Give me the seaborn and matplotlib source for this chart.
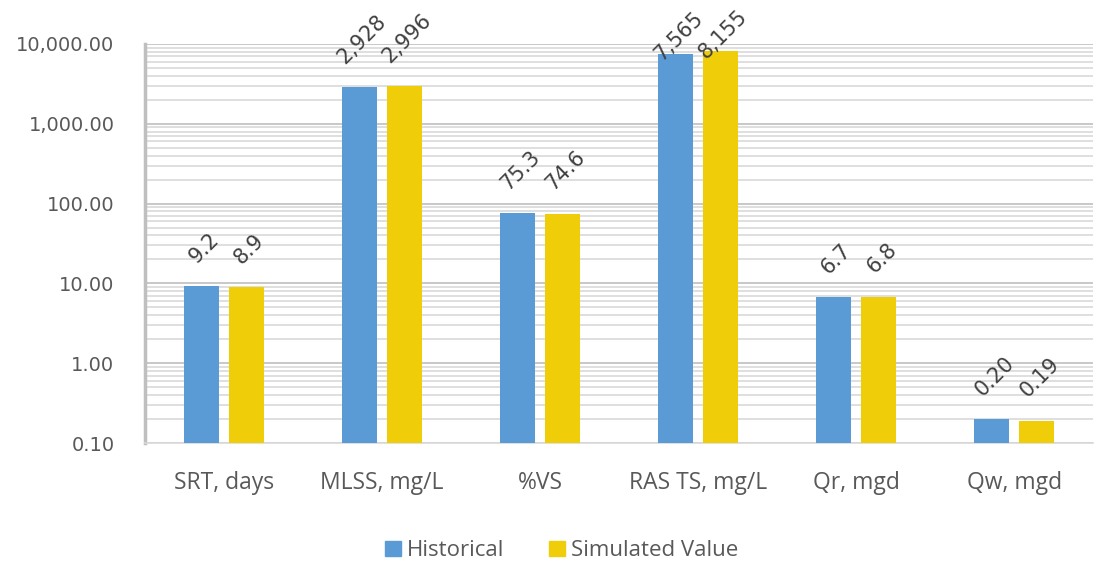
import pandas as pd
import numpy as np
import matplotlib
matplotlib.use('Agg')
import matplotlib.pyplot as plt
import seaborn as sns
from matplotlib.ticker import FixedLocator, LogLocator, FuncFormatter, NullFormatter

categories = ['SRT, days', 'MLSS, mg/L', '%VS', 'RAS TS, mg/L', 'Qr, mgd', 'Qw, mgd']
historical = [9.2, 2928, 75.3, 7565, 6.7, 0.20]
simulated = [8.9, 2996, 74.6, 8155, 6.8, 0.19]
hist_labels = ['9.2', '2,928', '75.3', '7,565', '6.7', '0.20']
sim_labels = ['8.9', '2,996', '74.6', '8,155', '6.8', '0.19']
series = ['Historical', 'Simulated Value']

df = pd.DataFrame({
    'cat': categories * 2,
    'value': historical + simulated,
    'series': [series[0]] * 6 + [series[1]] * 6,
})

sns.set_style('white')
plt.rcParams['font.family'] = ['Open Sans', 'DejaVu Sans']

fig = plt.figure(figsize=(10.95, 5.66), dpi=100)
ax = fig.add_axes([0.1324, 0.2173, 0.866, 0.705])

ax.set_yscale('log')
sns.barplot(data=df, x='cat', y='value', hue='series',
            palette=['#5B9BD5', '#F0CD09'], saturation=1, width=0.57, gap=0.23,
            ax=ax, zorder=3, legend=False, linewidth=0)
ax.set_ylim(0.1, 10000)
ax.set_xlim(-0.5, 5.5)

# gridlines
ax.yaxis.set_major_locator(FixedLocator([0.1, 1, 10, 100, 1000, 10000]))
ax.yaxis.set_minor_locator(LogLocator(base=10, subs=np.arange(2, 10)))
ax.yaxis.set_minor_formatter(NullFormatter())
ax.yaxis.set_major_formatter(FuncFormatter(lambda v, p: f'{v:,.2f}'))
ax.grid(axis='y', which='major', color='#BFBFBF', lw=1.2, zorder=0)
ax.grid(axis='y', which='minor', color='#D9D9D9', lw=1.2, zorder=0)
ax.tick_params(axis='both', which='both', length=0)
ax.tick_params(axis='y', labelsize=14, labelcolor='#595959', pad=22)
ax.tick_params(axis='x', labelsize=16.5, labelcolor='#595959', pad=20)
for t in ax.get_yticklabels():
    t.set_family('DejaVu Sans')
ax.set_xlabel('')
ax.set_ylabel('')
for s in ['top', 'right']:
    ax.spines[s].set_visible(False)
ax.spines['left'].set_color('#BFBFBF')
ax.spines['left'].set_linewidth(2.5)
ax.spines['bottom'].set_color('#D9D9D9')
ax.spines['bottom'].set_linewidth(1.2)

# data labels (labels near the top get pushed down to stay inside)
for cont, labs in zip(ax.containers, [hist_labels, sim_labels]):
    for bar, lab in zip(cont, labs):
        h = bar.get_height()
        off = 14 if h < 5000 else -8
        ax.annotate(lab, (bar.get_x() + bar.get_width() / 2, h),
                    xytext=(2, off), textcoords='offset points',
                    ha='center', va='bottom', rotation=45,
                    fontsize=15, color='#404040', family='DejaVu Sans',
                    annotation_clip=False, zorder=5)

handles = [plt.Rectangle((0, 0), 1, 1, color=c) for c in ['#5B9BD5', '#F0CD09']]
fig.legend(handles, series, loc='center', bbox_to_anchor=(0.513, 0.027), ncol=2,
           frameon=False, fontsize=16, labelcolor='#595959', handlelength=0.7,
           handleheight=0.7, handletextpad=0.3, columnspacing=2.0)

fig.savefig('out.png', dpi=100)
